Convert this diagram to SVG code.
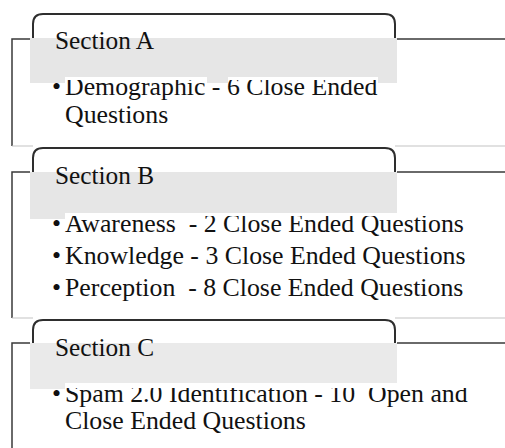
<svg xmlns="http://www.w3.org/2000/svg" width="505" height="448" viewBox="0 0 505 448">
  <style>
    .frame { fill: none; stroke: #3a3a3a; stroke-width: 1.5; }
    .floor { fill: none; stroke: #c4c4c4; stroke-width: 1.2; }
    .tab { fill: #ffffff; stroke: #2e2e2e; stroke-width: 2; }
    .band { fill: #e6e6e6; }
    .title { font-family: "Liberation Serif", "Times New Roman", serif; font-size: 25.3px; fill: #111; }
    .item { font-family: "Liberation Serif", "Times New Roman", serif; font-size: 25.8px; fill: #111; white-space: pre; }
  </style>
  <defs>
    <clipPath id="clipA"><rect x="0" y="80" width="505" height="60"/></clipPath>
    <clipPath id="clipB"><rect x="0" y="216" width="505" height="100"/></clipPath>
    <clipPath id="clipC"><rect x="0" y="388" width="505" height="60"/></clipPath>
  </defs>

  <!-- Section A -->
  <g id="section-a">
    <path class="frame" d="M505 39 H397 M30 39 H12 V146"/>
    <path class="floor" d="M12 146 H33 M395 146 H505"/>
    <path class="tab" d="M33 38 V24 Q33 14 43 14 H385 Q395 14 395 24 V38"/>
    <rect class="band" x="30" y="38" width="367" height="39"/>
    <rect class="band" x="30" y="77" width="35" height="6"/>
    <rect class="band" x="207" y="77" width="21" height="6"/>
    <rect class="band" x="378" y="77" width="19" height="6"/>
    <text class="title" x="55" y="49">Section A</text>
    <g clip-path="url(#clipA)">
      <text class="item" x="52" y="95">•</text>
      <text class="item" x="65" y="95">Demographic - 6 Close Ended</text>
      <text class="item" x="65" y="123">Questions</text>
    </g>
  </g>

  <!-- Section B -->
  <g id="section-b">
    <path class="frame" d="M505 172 H397 M30 172 H12 V318"/>
    <path class="floor" d="M12 318 H33 M395 318 H505"/>
    <path class="tab" d="M33 172 V158 Q33 148 43 148 H385 Q395 148 395 158 V172"/>
    <rect class="band" x="30" y="172" width="367" height="41"/>
    <rect class="band" x="30" y="213" width="35" height="6"/>
    <text class="title" x="55" y="184">Section B</text>
    <g clip-path="url(#clipB)">
      <text class="item" x="52" y="232">•</text>
      <text class="item" x="65" y="232">Awareness  - 2 Close Ended Questions</text>
      <text class="item" x="52" y="264">•</text>
      <text class="item" x="65" y="264">Knowledge - 3 Close Ended Questions</text>
      <text class="item" x="52" y="296">•</text>
      <text class="item" x="65" y="296">Perception  - 8 Close Ended Questions</text>
    </g>
  </g>

  <!-- Section C -->
  <g id="section-c">
    <path class="frame" d="M505 343 H397 M30 343 H12 V448"/>
    <path class="tab" d="M33 343 V330 Q33 320 43 320 H385 Q395 320 395 330 V343"/>
    <rect class="band" x="30" y="343" width="367" height="40" style="fill:#eaeaea"/>
    <rect class="band" x="30" y="383" width="35" height="6" style="fill:#eaeaea"/>
    <text class="title" x="55" y="356">Section C</text>
    <g clip-path="url(#clipC)">
      <text class="item" x="52" y="402">•</text>
      <text class="item" x="65" y="402">Spam 2.0 Identification - 10  Open and</text>
      <text class="item" x="65" y="429">Close Ended Questions</text>
    </g>
  </g>

  <g id="connectors"></g>
</svg>
